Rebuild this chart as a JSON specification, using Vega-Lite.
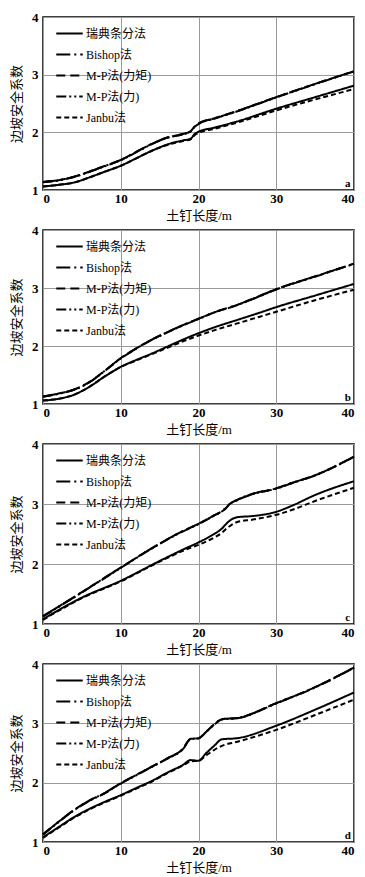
{
  "$schema": "https://vega.github.io/schema/vega-lite/v6.json",
  "background": "white",
  "padding": {"left": 9, "top": 10, "right": 5, "bottom": 0},
  "spacing": 0,
  "config": {
    "view": {"stroke": "black", "strokeWidth": 1.5},
    "font": "Liberation Serif",
    "axis": {
      "grid": true, "gridColor": "#9a9a9a", "gridWidth": 1,
      "domain": false, "ticks": false, "tickSize": 0, "format": "d",
      "labelFont": "Liberation Serif", "labelFontSize": 13, "labelFontWeight": "bold", "labelColor": "black",
      "titleFont": "Liberation Serif, Noto Sans CJK SC", "titleFontSize": 13, "titleFontWeight": "normal", "titleColor": "black"
    },
    "axisX": {"labelPadding": 2, "titlePadding": 4},
    "axisY": {"labelPadding": 5, "titlePadding": 8},
    "legend": {
      "orient": "none", "legendX": 12, "legendY": 2,
      "title": null,
      "symbolType": "stroke", "symbolSize": 700, "symbolStrokeWidth": 2, "symbolStrokeColor": "black",
      "labelFont": "Liberation Serif, Noto Sans CJK SC", "labelFontSize": 12, "labelColor": "black",
      "labelOffset": 2, "rowPadding": -5
    }
  },
  "resolve": {"scale": {"strokeDash": "independent"}, "legend": {"strokeDash": "independent"}},
  "datasets": {
    "d": [
      {"p":"a","L":0,"瑞典条分法":1.06,"Bishop法":1.14,"M-P法(力矩)":1.14,"M-P法(力)":1.135,"Janbu法":1.06},
      {"p":"a","L":2,"瑞典条分法":1.09,"Bishop法":1.17,"M-P法(力矩)":1.17,"M-P法(力)":1.165,"Janbu法":1.09},
      {"p":"a","L":4,"瑞典条分法":1.13,"Bishop法":1.23,"M-P法(力矩)":1.23,"M-P法(力)":1.225,"Janbu法":1.13},
      {"p":"a","L":6,"瑞典条分法":1.22,"Bishop法":1.32,"M-P法(力矩)":1.32,"M-P法(力)":1.315,"Janbu法":1.22},
      {"p":"a","L":8,"瑞典条分法":1.32,"Bishop法":1.42,"M-P法(力矩)":1.42,"M-P法(力)":1.415,"Janbu法":1.32},
      {"p":"a","L":10,"瑞典条分法":1.42,"Bishop法":1.52,"M-P法(力矩)":1.52,"M-P法(力)":1.515,"Janbu法":1.42},
      {"p":"a","L":12,"瑞典条分法":1.55,"Bishop法":1.66,"M-P法(力矩)":1.66,"M-P法(力)":1.655,"Janbu法":1.55},
      {"p":"a","L":14,"瑞典条分法":1.68,"Bishop法":1.8,"M-P法(力矩)":1.8,"M-P法(力)":1.795,"Janbu法":1.68},
      {"p":"a","L":16,"瑞典条分法":1.79,"Bishop法":1.91,"M-P法(力矩)":1.91,"M-P法(力)":1.905,"Janbu法":1.78},
      {"p":"a","L":18,"瑞典条分法":1.86,"Bishop法":1.97,"M-P法(力矩)":1.97,"M-P法(力)":1.965,"Janbu法":1.85},
      {"p":"a","L":19,"瑞典条分法":1.89,"Bishop法":2.02,"M-P法(力矩)":2.02,"M-P法(力)":2.015,"Janbu法":1.88},
      {"p":"a","L":19.5,"瑞典条分法":1.97,"Bishop法":2.1,"M-P法(力矩)":2.1,"M-P法(力)":2.095,"Janbu法":1.95},
      {"p":"a","L":20,"瑞典条分法":2.01,"Bishop法":2.15,"M-P法(力矩)":2.15,"M-P法(力)":2.145,"Janbu法":1.99},
      {"p":"a","L":22,"瑞典条分法":2.08,"Bishop法":2.24,"M-P法(力矩)":2.24,"M-P法(力)":2.235,"Janbu法":2.06},
      {"p":"a","L":25,"瑞典条分法":2.19,"Bishop法":2.37,"M-P法(力矩)":2.37,"M-P法(力)":2.365,"Janbu法":2.17},
      {"p":"a","L":30,"瑞典条分法":2.41,"Bishop法":2.61,"M-P法(力矩)":2.61,"M-P法(力)":2.605,"Janbu法":2.38},
      {"p":"a","L":35,"瑞典条分法":2.61,"Bishop法":2.84,"M-P法(力矩)":2.84,"M-P法(力)":2.835,"Janbu法":2.57},
      {"p":"a","L":40,"瑞典条分法":2.81,"Bishop法":3.06,"M-P法(力矩)":3.06,"M-P法(力)":3.055,"Janbu法":2.75},

      {"p":"b","L":0,"瑞典条分法":1.06,"Bishop法":1.13,"M-P法(力矩)":1.13,"M-P法(力)":1.125,"Janbu法":1.06},
      {"p":"b","L":2,"瑞典条分法":1.09,"Bishop法":1.18,"M-P法(力矩)":1.18,"M-P法(力)":1.175,"Janbu法":1.09},
      {"p":"b","L":4,"瑞典条分法":1.16,"Bishop法":1.25,"M-P法(力矩)":1.25,"M-P法(力)":1.245,"Janbu法":1.16},
      {"p":"b","L":6,"瑞典条分法":1.3,"Bishop法":1.38,"M-P法(力矩)":1.38,"M-P法(力)":1.375,"Janbu法":1.3},
      {"p":"b","L":8,"瑞典条分法":1.48,"Bishop法":1.58,"M-P法(力矩)":1.58,"M-P法(力)":1.575,"Janbu法":1.48},
      {"p":"b","L":10,"瑞典条分法":1.64,"Bishop法":1.79,"M-P法(力矩)":1.79,"M-P法(力)":1.785,"Janbu法":1.64},
      {"p":"b","L":12,"瑞典条分法":1.76,"Bishop法":1.96,"M-P法(力矩)":1.96,"M-P法(力)":1.955,"Janbu法":1.75},
      {"p":"b","L":14,"瑞典条分法":1.87,"Bishop法":2.11,"M-P法(力矩)":2.11,"M-P法(力)":2.105,"Janbu法":1.86},
      {"p":"b","L":16,"瑞典条分法":1.99,"Bishop法":2.24,"M-P法(力矩)":2.24,"M-P法(力)":2.235,"Janbu法":1.97},
      {"p":"b","L":18,"瑞典条分法":2.11,"Bishop法":2.36,"M-P法(力矩)":2.36,"M-P法(力)":2.355,"Janbu法":2.08},
      {"p":"b","L":20,"瑞典条分法":2.22,"Bishop法":2.47,"M-P法(力矩)":2.47,"M-P法(力)":2.465,"Janbu法":2.18},
      {"p":"b","L":22,"瑞典条分法":2.32,"Bishop法":2.58,"M-P法(力矩)":2.58,"M-P法(力)":2.575,"Janbu法":2.27},
      {"p":"b","L":25,"瑞典条分法":2.45,"Bishop法":2.71,"M-P法(力矩)":2.71,"M-P法(力)":2.705,"Janbu法":2.39},
      {"p":"b","L":28,"瑞典条分法":2.58,"Bishop法":2.87,"M-P法(力矩)":2.87,"M-P法(力)":2.865,"Janbu法":2.51},
      {"p":"b","L":30,"瑞典条分法":2.67,"Bishop法":2.98,"M-P法(力矩)":2.98,"M-P法(力)":2.975,"Janbu法":2.59},
      {"p":"b","L":35,"瑞典条分法":2.87,"Bishop法":3.2,"M-P法(力矩)":3.2,"M-P法(力)":3.195,"Janbu法":2.79},
      {"p":"b","L":40,"瑞典条分法":3.07,"Bishop法":3.42,"M-P法(力矩)":3.42,"M-P法(力)":3.415,"Janbu法":2.97},

      {"p":"c","L":0,"瑞典条分法":1.08,"Bishop法":1.13,"M-P法(力矩)":1.13,"M-P法(力)":1.125,"Janbu法":1.07},
      {"p":"c","L":5,"瑞典条分法":1.44,"Bishop法":1.53,"M-P法(力矩)":1.53,"M-P法(力)":1.525,"Janbu法":1.43},
      {"p":"c","L":10,"瑞典条分法":1.72,"Bishop法":1.94,"M-P法(力矩)":1.94,"M-P法(力)":1.935,"Janbu法":1.71},
      {"p":"c","L":15,"瑞典条分法":2.05,"Bishop法":2.34,"M-P法(力矩)":2.34,"M-P法(力)":2.335,"Janbu法":2.04},
      {"p":"c","L":18,"瑞典条分法":2.24,"Bishop法":2.55,"M-P法(力矩)":2.55,"M-P法(力)":2.545,"Janbu法":2.22},
      {"p":"c","L":20,"瑞典条分法":2.36,"Bishop法":2.67,"M-P法(力矩)":2.67,"M-P法(力)":2.665,"Janbu法":2.32},
      {"p":"c","L":22,"瑞典条分法":2.5,"Bishop法":2.81,"M-P法(力矩)":2.81,"M-P法(力)":2.805,"Janbu法":2.44},
      {"p":"c","L":23,"瑞典条分法":2.59,"Bishop法":2.88,"M-P法(力矩)":2.88,"M-P法(力)":2.875,"Janbu法":2.52},
      {"p":"c","L":23.5,"瑞典条分法":2.66,"Bishop法":2.93,"M-P法(力矩)":2.93,"M-P法(力)":2.925,"Janbu法":2.58},
      {"p":"c","L":24,"瑞典条分法":2.72,"Bishop法":3.0,"M-P法(力矩)":3.0,"M-P法(力)":2.995,"Janbu法":2.63},
      {"p":"c","L":25,"瑞典条分法":2.78,"Bishop法":3.07,"M-P法(力矩)":3.07,"M-P法(力)":3.065,"Janbu法":2.7},
      {"p":"c","L":27,"瑞典条分法":2.8,"Bishop法":3.17,"M-P法(力矩)":3.17,"M-P法(力)":3.165,"Janbu法":2.74},
      {"p":"c","L":30,"瑞典条分法":2.87,"Bishop法":3.26,"M-P法(力矩)":3.26,"M-P法(力)":3.255,"Janbu法":2.82},
      {"p":"c","L":32,"瑞典条分法":2.97,"Bishop法":3.35,"M-P法(力矩)":3.35,"M-P法(力)":3.345,"Janbu法":2.9},
      {"p":"c","L":35,"瑞典条分法":3.15,"Bishop法":3.48,"M-P法(力矩)":3.48,"M-P法(力)":3.475,"Janbu法":3.05},
      {"p":"c","L":40,"瑞典条分法":3.38,"Bishop法":3.79,"M-P法(力矩)":3.79,"M-P法(力)":3.785,"Janbu法":3.27},

      {"p":"d","L":0,"瑞典条分法":1.08,"Bishop法":1.13,"M-P法(力矩)":1.13,"M-P法(力)":1.125,"Janbu法":1.07},
      {"p":"d","L":2,"瑞典条分法":1.25,"Bishop法":1.34,"M-P法(力矩)":1.34,"M-P法(力)":1.335,"Janbu法":1.24},
      {"p":"d","L":4,"瑞典条分法":1.42,"Bishop法":1.54,"M-P法(力矩)":1.54,"M-P法(力)":1.535,"Janbu法":1.41},
      {"p":"d","L":6,"瑞典条分法":1.56,"Bishop法":1.7,"M-P法(力矩)":1.7,"M-P法(力)":1.695,"Janbu法":1.55},
      {"p":"d","L":8,"瑞典条分法":1.68,"Bishop法":1.83,"M-P法(力矩)":1.83,"M-P法(力)":1.825,"Janbu法":1.67},
      {"p":"d","L":10,"瑞典条分法":1.79,"Bishop法":1.99,"M-P法(力矩)":1.99,"M-P法(力)":1.985,"Janbu法":1.78},
      {"p":"d","L":12,"瑞典条分法":1.91,"Bishop法":2.13,"M-P法(力矩)":2.13,"M-P法(力)":2.125,"Janbu法":1.9},
      {"p":"d","L":14,"瑞典条分法":2.03,"Bishop法":2.27,"M-P法(力矩)":2.27,"M-P法(力)":2.265,"Janbu法":2.02},
      {"p":"d","L":16,"瑞典条分法":2.17,"Bishop法":2.41,"M-P法(力矩)":2.41,"M-P法(力)":2.405,"Janbu法":2.16},
      {"p":"d","L":18,"瑞典条分法":2.3,"Bishop法":2.57,"M-P法(力矩)":2.57,"M-P法(力)":2.565,"Janbu法":2.29},
      {"p":"d","L":19,"瑞典条分法":2.38,"Bishop法":2.74,"M-P法(力矩)":2.74,"M-P法(力)":2.735,"Janbu法":2.36},
      {"p":"d","L":20,"瑞典条分法":2.37,"Bishop法":2.75,"M-P法(力矩)":2.75,"M-P法(力)":2.745,"Janbu法":2.37},
      {"p":"d","L":21,"瑞典条分法":2.5,"Bishop法":2.86,"M-P法(力矩)":2.86,"M-P法(力)":2.855,"Janbu法":2.46},
      {"p":"d","L":22,"瑞典条分法":2.62,"Bishop法":2.98,"M-P法(力矩)":2.98,"M-P法(力)":2.975,"Janbu法":2.55},
      {"p":"d","L":23,"瑞典条分法":2.73,"Bishop法":3.07,"M-P法(力矩)":3.07,"M-P法(力)":3.065,"Janbu法":2.62},
      {"p":"d","L":25,"瑞典条分法":2.75,"Bishop法":3.09,"M-P法(力矩)":3.09,"M-P法(力)":3.085,"Janbu法":2.69},
      {"p":"d","L":30,"瑞典条分法":2.96,"Bishop法":3.34,"M-P法(力矩)":3.34,"M-P法(力)":3.335,"Janbu法":2.89},
      {"p":"d","L":35,"瑞典条分法":3.23,"Bishop法":3.61,"M-P法(力矩)":3.61,"M-P法(力)":3.605,"Janbu法":3.14},
      {"p":"d","L":40,"瑞典条分法":3.52,"Bishop法":3.94,"M-P法(力矩)":3.94,"M-P法(力)":3.935,"Janbu法":3.4}
    ],
    "lab": [
      {"p":"a","L":39.2,"F":1.1},
      {"p":"b","L":39.2,"F":1.1},
      {"p":"c","L":39.2,"F":1.1},
      {"p":"d","L":39.2,"F":1.1}
    ]
  },
  "vconcat": [
    {
      "width": 311, "height": 173,
      "layer": [
        {
          "data": {"name": "d"},
          "transform": [{"filter": "datum.p == 'a'"}, {"fold": ["瑞典条分法","Bishop法","M-P法(力矩)","M-P法(力)","Janbu法"], "as": ["m","F"]}],
          "mark": {"type": "line", "interpolate": "monotone", "strokeWidth": 2, "color": "black"},
          "encoding": {
            "x": {"field": "L", "type": "quantitative", "scale": {"domain": [0,40], "nice": false}, "axis": {"values": [0,10,20,30,40], "title": "土钉长度/m"}},
            "y": {"field": "F", "type": "quantitative", "scale": {"domain": [1,4], "nice": false, "zero": false}, "axis": {"values": [1,2,3,4], "title": "边坡安全系数"}},
            "strokeDash": {"field": "m", "type": "nominal", "scale": {"domain": ["瑞典条分法","Bishop法","M-P法(力矩)","M-P法(力)","Janbu法"], "range": [[1,0],[14,4,2,4],[9,5],[10,3,2,3,2,3],[5,3]]}, "legend": {"orient": "none"}}
          }
        },
        {
          "data": {"name": "lab"},
          "transform": [{"filter": "datum.p == 'a'"}],
          "mark": {"type": "text", "font": "Liberation Serif", "fontSize": 11, "fontWeight": "bold", "color": "black", "align": "center", "baseline": "middle"},
          "encoding": {"x": {"field": "L", "type": "quantitative"}, "y": {"field": "F", "type": "quantitative"}, "text": {"field": "p"}}
        }
      ]
    },
    {
      "width": 311, "height": 174,
      "layer": [
        {
          "data": {"name": "d"},
          "transform": [{"filter": "datum.p == 'b'"}, {"fold": ["瑞典条分法","Bishop法","M-P法(力矩)","M-P法(力)","Janbu法"], "as": ["m","F"]}],
          "mark": {"type": "line", "interpolate": "monotone", "strokeWidth": 2, "color": "black"},
          "encoding": {
            "x": {"field": "L", "type": "quantitative", "scale": {"domain": [0,40], "nice": false}, "axis": {"values": [0,10,20,30,40], "title": "土钉长度/m"}},
            "y": {"field": "F", "type": "quantitative", "scale": {"domain": [1,4], "nice": false, "zero": false}, "axis": {"values": [1,2,3,4], "title": "边坡安全系数"}},
            "strokeDash": {"field": "m", "type": "nominal", "scale": {"domain": ["瑞典条分法","Bishop法","M-P法(力矩)","M-P法(力)","Janbu法"], "range": [[1,0],[14,4,2,4],[9,5],[10,3,2,3,2,3],[5,3]]}, "legend": {"orient": "none"}}
          }
        },
        {
          "data": {"name": "lab"},
          "transform": [{"filter": "datum.p == 'b'"}],
          "mark": {"type": "text", "font": "Liberation Serif", "fontSize": 11, "fontWeight": "bold", "color": "black", "align": "center", "baseline": "middle"},
          "encoding": {"x": {"field": "L", "type": "quantitative"}, "y": {"field": "F", "type": "quantitative"}, "text": {"field": "p"}}
        }
      ]
    },
    {
      "width": 311, "height": 180,
      "layer": [
        {
          "data": {"name": "d"},
          "transform": [{"filter": "datum.p == 'c'"}, {"fold": ["瑞典条分法","Bishop法","M-P法(力矩)","M-P法(力)","Janbu法"], "as": ["m","F"]}],
          "mark": {"type": "line", "interpolate": "monotone", "strokeWidth": 2, "color": "black"},
          "encoding": {
            "x": {"field": "L", "type": "quantitative", "scale": {"domain": [0,40], "nice": false}, "axis": {"values": [0,10,20,30,40], "title": "土钉长度/m"}},
            "y": {"field": "F", "type": "quantitative", "scale": {"domain": [1,4], "nice": false, "zero": false}, "axis": {"values": [1,2,3,4], "title": "边坡安全系数"}},
            "strokeDash": {"field": "m", "type": "nominal", "scale": {"domain": ["瑞典条分法","Bishop法","M-P法(力矩)","M-P法(力)","Janbu法"], "range": [[1,0],[14,4,2,4],[9,5],[10,3,2,3,2,3],[5,3]]}, "legend": {"orient": "none"}}
          }
        },
        {
          "data": {"name": "lab"},
          "transform": [{"filter": "datum.p == 'c'"}],
          "mark": {"type": "text", "font": "Liberation Serif", "fontSize": 11, "fontWeight": "bold", "color": "black", "align": "center", "baseline": "middle"},
          "encoding": {"x": {"field": "L", "type": "quantitative"}, "y": {"field": "F", "type": "quantitative"}, "text": {"field": "p"}}
        }
      ]
    },
    {
      "width": 311, "height": 178,
      "layer": [
        {
          "data": {"name": "d"},
          "transform": [{"filter": "datum.p == 'd'"}, {"fold": ["瑞典条分法","Bishop法","M-P法(力矩)","M-P法(力)","Janbu法"], "as": ["m","F"]}],
          "mark": {"type": "line", "interpolate": "monotone", "strokeWidth": 2, "color": "black"},
          "encoding": {
            "x": {"field": "L", "type": "quantitative", "scale": {"domain": [0,40], "nice": false}, "axis": {"values": [0,10,20,30,40], "title": "土钉长度/m"}},
            "y": {"field": "F", "type": "quantitative", "scale": {"domain": [1,4], "nice": false, "zero": false}, "axis": {"values": [1,2,3,4], "title": "边坡安全系数"}},
            "strokeDash": {"field": "m", "type": "nominal", "scale": {"domain": ["瑞典条分法","Bishop法","M-P法(力矩)","M-P法(力)","Janbu法"], "range": [[1,0],[14,4,2,4],[9,5],[10,3,2,3,2,3],[5,3]]}, "legend": {"orient": "none"}}
          }
        },
        {
          "data": {"name": "lab"},
          "transform": [{"filter": "datum.p == 'd'"}],
          "mark": {"type": "text", "font": "Liberation Serif", "fontSize": 11, "fontWeight": "bold", "color": "black", "align": "center", "baseline": "middle"},
          "encoding": {"x": {"field": "L", "type": "quantitative"}, "y": {"field": "F", "type": "quantitative"}, "text": {"field": "p"}}
        }
      ]
    }
  ]
}
